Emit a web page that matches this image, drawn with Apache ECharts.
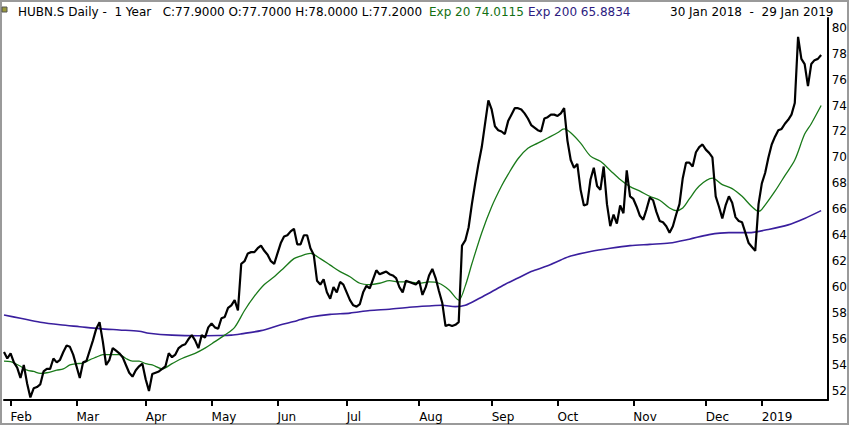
<!DOCTYPE html>
<html>
<head>
<meta charset="utf-8">
<script src="https://cdn.jsdelivr.net/npm/echarts@6/dist/echarts.min.js"></script>
<style>
html,body{margin:0;padding:0;background:#fff;}
#chart{width:850px;height:426px;}
</style>
</head>
<body>
<div id="chart"></div>
<script>
// ---------- data ----------
const holidays = ['2018-03-30','2018-04-02','2018-05-01','2018-05-10','2018-05-21','2018-08-01',
  '2018-12-24','2018-12-25','2018-12-26','2018-12-31','2019-01-01','2019-01-02'];
const firstDay = [2018, 0, 30];
const lastAxisDay = [2019, 0, 31];

const closes = [
55.0,54.5,54.9,54.2,53.8,53.0,54.0,52.6,51.5,52.2,
52.3,52.5,53.5,53.7,53.7,54.5,54.2,54.4,55.0,55.5,
55.4,54.8,53.9,53.0,54.2,54.3,55.1,55.9,56.8,57.3,
55.8,54.0,54.4,55.3,55.1,54.9,54.6,54.0,53.4,53.1,
53.6,53.9,54.1,52.9,52.0,53.3,53.4,53.5,53.7,53.9,
54.9,54.6,54.8,55.3,55.5,55.6,56.0,56.3,55.9,55.3,
56.3,56.1,56.9,57.2,56.9,56.8,57.6,57.7,58.4,58.6,
59.0,58.2,61.8,62.0,62.6,62.7,62.7,63.0,63.2,62.8,
62.5,62.0,61.8,62.6,63.4,63.9,64.0,64.3,64.5,63.3,
63.3,64.0,64.0,63.0,62.5,60.5,60.2,60.6,59.6,59.1,
60.0,59.6,60.4,60.2,59.6,59.0,58.6,58.5,58.7,59.6,
60.1,59.9,60.6,61.3,61.0,61.1,61.2,61.0,60.9,60.7,
60.0,59.6,60.5,60.4,60.3,60.2,60.5,59.4,60.0,60.9,
61.4,60.7,59.7,58.8,57.0,57.1,57.0,57.1,57.3,63.2,
63.6,64.6,66.4,68.0,69.5,70.8,72.6,74.4,73.7,72.4,
72.1,72.0,71.8,72.8,73.3,73.8,73.8,73.7,73.4,73.0,
72.5,72.3,72.1,72.0,73.0,73.1,73.3,73.3,73.2,73.4,
73.8,71.3,69.8,69.2,69.5,67.5,66.3,66.4,68.3,69.2,
67.8,67.5,69.3,66.4,64.7,65.6,64.9,66.3,65.7,69.0,
67.0,66.8,66.2,65.5,65.2,66.0,66.9,66.7,65.8,65.1,
65.0,64.7,64.2,64.7,65.6,66.4,68.4,69.6,69.6,69.3,
70.4,70.8,71.0,70.6,70.35,70.0,67.0,66.2,65.3,66.3,
67.0,66.5,65.4,65.1,65.0,64.2,63.4,63.1,62.8,66.4,
68.0,68.8,70.0,71.0,71.6,72.1,72.2,72.6,72.9,73.3,
74.2,79.3,77.6,77.2,75.5,77.2,77.5,77.6,77.9
];

const ema20Idx = [0,2,5,7,9,11,13,16,18,20,22,24,26,28,30,33,35,37,39,41,43,45,48,51,54,58,61,64,67,70,
  73,76,79,82,85,88,90,93,96,99,102,105,108,111,114,117,120,123,126,129,132,135,138,140,142,145,148,151,153,156,
  159,162,165,168,170,172,175,178,181,184,187,190,193,196,199,202,204,206,208,211,215,218,221,224,227,229,230,234,237,240,
  243,245,248];
const ema20Val = [54.3,54.25,53.9,53.6,53.5,53.35,53.4,53.6,53.7,54.0,54.1,54.15,54.4,54.6,54.8,54.8,54.8,54.5,54.3,54.3,
  54.1,54.0,53.7,54.1,54.5,54.9,55.3,55.8,56.3,56.9,58.2,59.3,60.2,60.8,61.5,62.2,62.4,62.6,62.2,61.7,
  61.2,60.8,60.3,60.2,60.3,60.5,60.4,60.4,60.3,60.4,60.3,59.8,59.0,60.1,61.8,64.2,66.2,67.8,68.7,69.9,
  70.7,71.1,71.5,71.9,72.2,71.9,71.1,70.1,69.7,69.0,68.3,67.75,67.4,67.0,66.7,66.1,65.9,66.1,66.8,67.8,
  68.4,67.9,67.6,67.0,66.2,65.85,66.0,67.4,68.6,69.8,71.8,72.6,74.0];

const ema200Idx = [0,5,11,17,23,29,35,41,44,51,59,65,69,72,78,84,88,90,93,99,
  105,111,117,123,129,133,137,140,144,148,152,156,160,165,169,172,178,184,190,196,
  202,208,214,220,226,232,238,243,248];
const ema200Val = [57.85,57.6,57.3,57.1,56.95,56.8,56.7,56.6,56.45,56.3,56.25,56.27,56.3,56.4,56.65,57.1,57.35,57.5,57.7,57.9,
  58.0,58.2,58.3,58.45,58.55,58.6,58.5,58.6,59.1,59.65,60.2,60.7,61.2,61.65,62.1,62.4,62.75,63.0,63.2,63.3,
  63.4,63.7,64.05,64.2,64.2,64.45,64.8,65.3,65.9];

const yTickLabels = [52,54,56,58,60,62,64,66,68,70,72,74,76,78,80];
const monthNames = ['Jan','Feb','Mar','Apr','May','Jun','Jul','Aug','Sep','Oct','Nov','Dec'];

const headerMain = 'HUBN.S Daily -  1 Year   C:77.9000 O:77.7000 H:78.0000 L:77.2000';
const headerExp20 = 'Exp 20 74.0115';
const headerExp200 = 'Exp 200 65.8834';
const headerRange = '30 Jan 2018  -  29 Jan 2019';

// ---------- build trading-day categories ----------
function buildDates() {
  const out = [];
  const hol = new Set(holidays);
  let t = Date.UTC(firstDay[0], firstDay[1], firstDay[2]);
  const end = Date.UTC(lastAxisDay[0], lastAxisDay[1], lastAxisDay[2]);
  while (t <= end) {
    const d = new Date(t);
    const wd = d.getUTCDay();
    const s = d.toISOString().slice(0, 10);
    if (wd !== 0 && wd !== 6 && !hol.has(s)) out.push(s);
    t += 86400000;
  }
  return out;
}
const dates = buildDates();
const monthStart = new Set();
for (let i = 1; i < dates.length; i++) {
  if (dates[i].slice(0, 7) !== dates[i - 1].slice(0, 7)) monthStart.add(i);
}
const isMonthStart = (idx) => monthStart.has(idx);

const FONT = 'DejaVu Sans';
const chart = echarts.init(document.getElementById('chart'), null, {renderer: 'svg'});

chart.setOption({
  animation: false,
  backgroundColor: '#ffffff',
  grid: {left: 4, right: 22, top: 18, bottom: 26},
  xAxis: {
    type: 'category',
    data: dates,
    boundaryGap: false,
    axisLine: {lineStyle: {color: '#000', width: 2}},
    axisTick: {show: true, interval: (i) => isMonthStart(i), length: 6, lineStyle: {color: '#000', width: 2}},
    axisLabel: {
      interval: (i) => isMonthStart(i),
      formatter: (v) => {
        const m = parseInt(v.slice(5, 7), 10);
        return m === 1 ? v.slice(0, 4) : monthNames[m - 1];
      },
      align: 'left', margin: 11, fontSize: 12, fontFamily: FONT, color: '#000'
    },
    splitLine: {show: false}
  },
  yAxis: {
    type: 'value',
    position: 'right',
    min: 51.3,
    max: 80.75,
    axisLine: {show: true, lineStyle: {color: '#000', width: 2}},
    axisTick: {show: false},
    splitLine: {show: false},
    axisLabel: {customValues: yTickLabels, margin: 4, fontSize: 12, fontFamily: FONT, color: '#000'}
  },
  series: [
    {
      name: 'Exp 200', type: 'line', showSymbol: false, smooth: 0.3,
      data: ema200Idx.map((i, k) => [i, ema200Val[k]]),
      lineStyle: {color: '#3a1f9e', width: 1.6}, z: 2
    },
    {
      name: 'Exp 20', type: 'line', showSymbol: false, smooth: 0.3,
      data: ema20Idx.map((i, k) => [i, ema20Val[k]]),
      lineStyle: {color: '#1a7a1a', width: 1.3}, z: 3
    },
    {
      name: 'Close', type: 'line', showSymbol: false,
      data: closes,
      lineStyle: {color: '#000', width: 2.2}, z: 4
    }
  ],
  graphic: [
    {type: 'rect', shape: {x: 1, y: 1, width: 847, height: 423}, style: {fill: 'none', stroke: '#9a9a9a', lineWidth: 2}, silent: true},
    {type: 'rect', shape: {x: 2, y: 7, width: 5, height: 5}, style: {fill: '#9a9a3a', stroke: '#555', lineWidth: 1}, silent: true},
    {type: 'text', x: 18, y: 12, style: {text: headerMain, font: '12px ' + FONT, fill: '#000', verticalAlign: 'middle'}, silent: true},
    {type: 'text', x: 429, y: 12, style: {text: headerExp20, font: '12px ' + FONT, fill: '#137013', verticalAlign: 'middle'}, silent: true},
    {type: 'text', x: 528, y: 12, style: {text: headerExp200, font: '12px ' + FONT, fill: '#2c1b80', verticalAlign: 'middle'}, silent: true},
    {type: 'text', x: 670, y: 12, style: {text: headerRange, font: '12px ' + FONT, fill: '#000', verticalAlign: 'middle'}, silent: true}
  ]
});
</script>
</body>
</html>
